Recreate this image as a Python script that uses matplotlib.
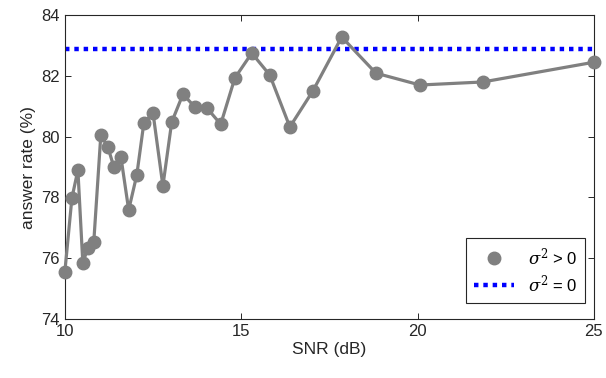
import matplotlib
matplotlib.use("Agg")
from matplotlib import pyplot as plt

# SNR values (dB) and answer rate (%)
snr_db = [10.0, 10.2, 10.37, 10.51, 10.65, 10.82, 11.02, 11.22, 11.39, 11.59,
          11.81, 12.04, 12.24, 12.5, 12.78, 13.03, 13.35, 13.69, 14.03, 14.42,
          14.82, 15.3, 15.81, 16.38, 17.03, 17.85, 18.82, 20.07, 21.85, 25.0]
answer_rate = [75.55, 77.98, 78.9, 75.84, 76.34, 76.53, 80.05, 79.66, 79.0, 79.33,
               77.59, 78.74, 80.45, 80.78, 78.38, 80.48, 81.4, 80.97, 80.94, 80.41,
               81.93, 82.75, 82.03, 80.32, 81.5, 83.28, 82.09, 81.7, 81.8, 82.45]
noiseless_rate = 82.9
x_range = [10, 25]
y_ticks = [74, 76, 78, 80, 82, 84]
x_ticks = [10, 15, 20, 25]

plt.rcParams['font.family'] = ['Liberation Sans', 'DejaVu Sans']
plt.rcParams['mathtext.fontset'] = 'dejavuserif'

fig = plt.figure(figsize=(6.06, 3.78), dpi=100)
ax = fig.add_axes([0.107, 0.156, 0.873, 0.804])

gray = (0.5, 0.5, 0.5)
ax.plot(snr_db, answer_rate, color=gray, linewidth=2.3, zorder=3, clip_on=False)
ax.plot(snr_db, answer_rate, 'o', color=gray, markersize=9, zorder=4,
        clip_on=False, label=r'$\sigma^2$ > 0')
ax.plot(x_range, [noiseless_rate, noiseless_rate], color='blue', linewidth=3.2,
        linestyle=(0, (1, 1.1)), zorder=2, label=r'$\sigma^2$ = 0')

ax.set_xlim(x_range)
ax.set_ylim(74, 84)
ax.set_xticks(x_ticks)
ax.set_yticks(y_ticks)
ax.tick_params(direction='in', top=True, right=True, labelsize=12,
               length=4, width=0.7, color='#262626', labelcolor='#262626')
for s in ax.spines.values():
    s.set_linewidth(0.8)
    s.set_color('#262626')

ax.set_xlabel('SNR (dB)', fontsize=12.5, color='#262626', labelpad=2)
ax.set_ylabel('answer rate (%)', fontsize=12.5, color='#262626', labelpad=4)

leg = ax.legend(loc='lower right', bbox_to_anchor=(0.966, 0.198),
                bbox_transform=fig.transFigure, borderaxespad=0,
                fontsize=12, fancybox=False, edgecolor='#262626', framealpha=1,
                handlelength=2.4, labelspacing=0.3, borderpad=0.5)
leg.get_frame().set_linewidth(0.8)

fig.savefig('out.png', dpi=100)
